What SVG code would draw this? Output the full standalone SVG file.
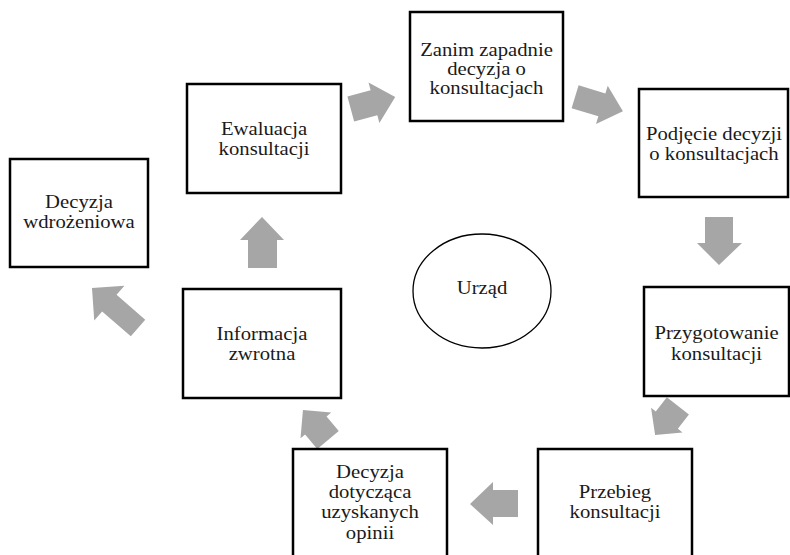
<svg xmlns="http://www.w3.org/2000/svg" width="790" height="555" viewBox="0 0 790 555">
<defs>
<style>
.box{fill:#fff;stroke:#000;stroke-width:2.5}
text{font-family:'Liberation Serif','DejaVu Serif','Times New Roman',serif;font-size:19px;fill:#1a1a1a;text-anchor:middle}
.arr{fill:#a6a6a6}
</style>
</defs>
<rect width="790" height="555" fill="#fff"/>
<g id="connectors">
<path class="arr" transform="translate(373,103) rotate(-15)" d="M-23,-13 L1,-13 L1,-21 L23,0 L1,21 L1,13 L-23,13 Z"/>
<path class="arr" transform="translate(599,104) rotate(17)" d="M-25,-12 L3,-12 L3,-20 L25,0 L3,20 L3,12 L-25,12 Z"/>
<polygon class="arr" points="705,217 733,217 733,243 742,243 719,265 697,243 705,243"/>
<path class="arr" transform="translate(666.5,420.5) rotate(128)" d="M-18.5,-14 L-0.5,-14 L-0.5,-20 L18.5,0 L-0.5,20 L-0.5,14 L-18.5,14 Z"/>
<polygon class="arr" points="518,490 518,517 493,517 493,525 470,504 493,482 493,490"/>
<path class="arr" transform="translate(315.5,425) rotate(230)" d="M-19.5,-14 L-0.5,-14 L-0.5,-20 L19.5,0 L-0.5,20 L-0.5,14 L-19.5,14 Z"/>
<polygon class="arr" points="248,268 248,240 240,240 262,217 284,240 277,240 277,268"/>
<path class="arr" transform="translate(115,308) rotate(221)" d="M-30.5,-11 L7.5,-11 L7.5,-23 L30.5,0 L7.5,23 L7.5,11 L-30.5,11 Z"/>
</g>
<g id="n-zanim">
<rect class="box" x="410" y="12" width="153" height="109"/>
<g transform="translate(486.5,0) scale(1.09,1)">
<text x="0" y="56">Zanim zapadnie</text>
<text x="0" y="75">decyzja o</text>
<text x="0" y="94">konsultacjach</text>
</g>
</g>
<g id="n-podjecie">
<rect class="box" x="639" y="89" width="149" height="108"/>
<g transform="translate(714,0) scale(1.09,1)">
<text x="0" y="140">Podjęcie decyzji</text>
<text x="0" y="160">o konsultacjach</text>
</g>
</g>
<g id="n-przygotowanie">
<rect class="box" x="644" y="287" width="145" height="109"/>
<g transform="translate(716.5,0) scale(1.09,1)">
<text x="0" y="339">Przygotowanie</text>
<text x="0" y="360">konsultacji</text>
</g>
</g>
<g id="n-przebieg">
<rect class="box" x="538" y="449" width="154" height="120"/>
<g transform="translate(615,0) scale(1.09,1)">
<text x="0" y="498">Przebieg</text>
<text x="0" y="518">konsultacji</text>
</g>
</g>
<g id="n-decyzja-opinii">
<rect class="box" x="293" y="449" width="154" height="120"/>
<g transform="translate(370,0) scale(1.09,1)">
<text x="0" y="478">Decyzja</text>
<text x="0" y="498">dotycząca</text>
<text x="0" y="518">uzyskanych</text>
<text x="0" y="539">opinii</text>
</g>
</g>
<g id="n-informacja">
<rect class="box" x="183" y="289" width="158" height="109"/>
<g transform="translate(262,0) scale(1.09,1)">
<text x="0" y="340">Informacja</text>
<text x="0" y="360">zwrotna</text>
</g>
</g>
<g id="n-ewaluacja">
<rect class="box" x="187" y="84" width="154" height="109"/>
<g transform="translate(264,0) scale(1.09,1)">
<text x="0" y="135">Ewaluacja</text>
<text x="0" y="155">konsultacji</text>
</g>
</g>
<g id="n-wdrozeniowa">
<rect class="box" x="10" y="159" width="138" height="108"/>
<g transform="translate(79,0) scale(1.09,1)">
<text x="0" y="208">Decyzja</text>
<text x="0" y="228">wdrożeniowa</text>
</g>
</g>
<g id="n-urzad">
<ellipse cx="482" cy="291" rx="69" ry="57" fill="#fff" stroke="#000" stroke-width="1.3"/>
<g transform="translate(482,0) scale(1.09,1)">
<text x="0" y="294">Urząd</text>
</g>
</g>
</svg>
